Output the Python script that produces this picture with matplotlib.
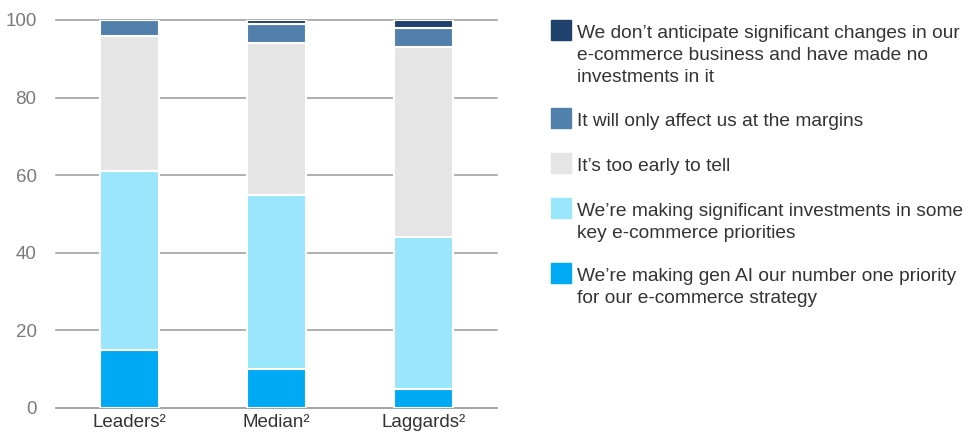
import matplotlib
matplotlib.use("Agg")
import matplotlib.pyplot as plt
from matplotlib.patches import Rectangle
import numpy as np

plt.rcParams['font.family'] = ['Liberation Sans', 'DejaVu Sans']

categories = ["Leaders²", "Median²", "Laggards²"]
gen_ai_top = [15, 10, 5]
significant = [46, 45, 39]
too_early = [35, 39, 49]
margins = [4, 5, 5]
no_changes = [0, 1, 2]

series = [gen_ai_top, significant, too_early, margins, no_changes]
labels = [
    "We're making gen AI our number one priority\nfor our e-commerce strategy",
    "We're making significant investments in some\nkey e-commerce priorities",
    "It's too early to tell",
    "It will only affect us at the margins",
    "We don't anticipate significant changes in our\ne-commerce business and have made no\ninvestments in it",
]
labels = [l.replace("'", "\u2019") for l in labels]
colors = ["#00a9f4", "#99e6fd", "#e5e5e5", "#5280ad", "#1e416e"]
yticks = [0, 20, 40, 60, 80, 100]

W, H = 973, 437
fig = plt.figure(figsize=(W / 100, H / 100), dpi=100)
ax = fig.add_axes([56 / W, 1 - 408 / H, (497 - 56) / W, (408 - 20) / H])

x = np.arange(len(categories))
bottom = np.zeros(len(categories))
for vals, c in zip(series, colors):
    v = np.array(vals, dtype=float)
    ax.bar(x, v, bottom=bottom, width=0.4, color=c, edgecolor="white",
           linewidth=1.5, zorder=3)
    bottom += v

ax.set_xlim(-0.5, 2.5)
ax.set_ylim(0, 100)
ax.set_yticks(yticks)
ax.set_yticklabels([str(t) for t in yticks])
for t in yticks:
    ax.axhline(t, color="#9a9a9a" if t else "#8a8a8a", linewidth=1.1, zorder=1,
               clip_on=False)
for s in ax.spines.values():
    s.set_visible(False)
ax.tick_params(axis="y", length=0, pad=14, labelsize=13.5, labelcolor="#7a7a7a")
ax.tick_params(axis="x", length=0, pad=4, labelsize=13.5, labelcolor="#333333")
ax.set_xticks(x)
ax.set_xticklabels(categories)

# legend (drawn manually, top entry first)
sq_tops = [20, 108, 153, 198, 263]
order = [4, 3, 2, 1, 0]
for top, idx in zip(sq_tops, order):
    fig.patches.append(Rectangle((551 / W, 1 - (top + 20) / H), 20 / W, 20 / H,
                                 transform=fig.transFigure, color=colors[idx]))
    for k, line in enumerate(labels[idx].split("\n")):
        base = top + 18 + 22 * k
        fig.text(577 / W, 1 - base / H, line, ha="left", va="baseline",
                 fontsize=13.8, color="#333333")

fig.savefig("out.png", dpi=100)
